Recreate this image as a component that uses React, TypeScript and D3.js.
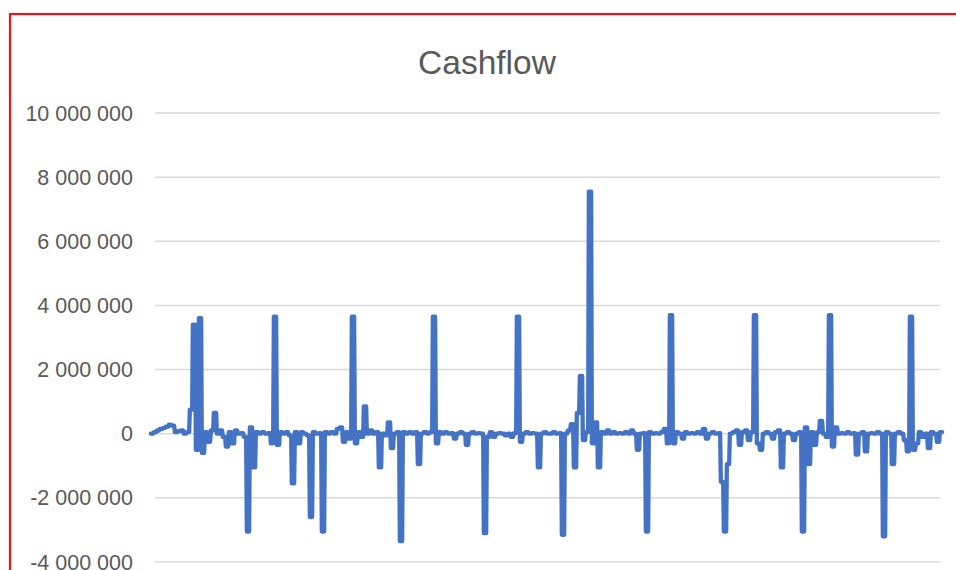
import React from "react";
import * as d3 from "d3";

// Cashflow values in millions, one per period
const cashflowM: number[] = [
  0.0, 0.05, 0.1, 0.15, 0.18, 0.22, 0.28, 0.25, 0.05, 0.08,
  0.1, 0.0, 0.05, 0.75, 3.4, -0.5, 3.6, -0.6, 0.05, -0.25,
  0.1, 0.65, 0.0, 0.1, -0.1, -0.4, 0.05, -0.3, 0.1, 0.0,
  0.02, -0.1, -3.05, 0.2, -1.05, 0.05, 0.0, 0.05, 0.0, 0.02,
  -0.3, 3.65, -0.35, 0.05, 0.0, 0.05, -0.05, -1.55, 0.05, -0.3,
  0.05, 0.0, -0.05, -2.6, 0.05, 0.0, 0.02, -3.05, 0.05, 0.0,
  0.05, 0.0, 0.15, 0.2, -0.25, 0.05, -0.15, 3.65, -0.3, 0.05,
  -0.1, 0.85, 0.0, 0.1, 0.0, 0.05, -1.05, 0.0, -0.05, 0.35,
  -0.45, 0.0, 0.05, -3.35, 0.05, 0.0, 0.05, 0.0, 0.05, -0.95,
  0.0, 0.05, 0.0, 0.05, 3.65, -0.3, 0.05, 0.0, 0.05, 0.0,
  0.02, -0.15, 0.0, 0.05, 0.0, -0.35, 0.0, 0.05, 0.0, 0.02,
  0.0, -3.1, -0.1, 0.05, -0.1, 0.0, 0.02, 0.0, -0.05, 0.0,
  -0.1, 0.02, 3.65, -0.25, 0.0, 0.05, 0.0, 0.02, 0.0, -1.05,
  0.0, 0.05, 0.0, 0.0, 0.05, 0.0, 0.02, -3.15, 0.0, 0.1,
  0.3, -1.05, 0.65, 1.8, -0.2, 0.05, 7.55, -0.3, 0.35, -1.05,
  0.05, 0.0, 0.1, 0.0, 0.05, 0.0, 0.02, 0.0, 0.05, 0.0,
  0.1, 0.0, -0.5, 0.0, 0.02, -3.05, 0.05, 0.0, 0.02, 0.0,
  0.05, 0.15, -0.3, 3.7, -0.3, 0.05, 0.0, -0.15, 0.05, 0.0,
  0.02, 0.0, 0.05, 0.0, 0.15, -0.15, 0.0, 0.05, 0.0, 0.02,
  -1.5, -3.05, -0.95, 0.0, 0.05, 0.1, -0.35, 0.05, 0.1, -0.2,
  0.05, 3.7, -0.3, -0.5, 0.0, 0.05, 0.0, -0.15, 0.05, 0.1,
  -1.05, 0.0, 0.05, 0.0, -0.2, 0.0, 0.05, -3.05, 0.2, -0.95,
  0.05, -0.35, 0.05, 0.4, 0.0, -0.1, 3.7, -0.4, 0.2, 0.0,
  0.02, 0.0, 0.05, 0.0, 0.02, -0.65, 0.0, 0.05, -0.55, 0.0,
  0.02, 0.0, 0.05, 0.0, -3.2, 0.05, 0.0, -0.95, 0.0, 0.05,
  0.0, -0.2, -0.55, 3.65, -0.5, -0.3, 0.05, -0.1, 0.0, -0.45,
  0.05, 0.0, -0.25, 0.05,
];

const yTicks: number[] = [-4, -2, 0, 2, 4, 6, 8, 10];
const yTickLabels: string[] = [
  "-4 000 000",
  "-2 000 000",
  "0",
  "2 000 000",
  "4 000 000",
  "6 000 000",
  "8 000 000",
  "10 000 000",
];
const chartTitle = "Cashflow";

const W = 956;
const H = 570;

export default function App() {
  const x = d3
    .scaleLinear()
    .domain([0, cashflowM.length - 1])
    .range([152, 941]);
  const y = d3.scaleLinear().domain([-4, 10]).range([562, 113]);

  // each period is held over a narrow span so that spikes render as near-vertical bars
  const half = 1.15;
  const pts: [number, number][] = cashflowM.flatMap((v, i) => [
    [x(i) - half, y(v)] as [number, number],
    [x(i) + half, y(v)] as [number, number],
  ]);

  const line = d3.line<[number, number]>();

  const font = "'Liberation Sans', Arial, sans-serif";

  return (
    <svg
      width={W}
      height={H}
      style={{ position: "absolute", left: 0, top: 0, background: "#fff" }}
    >
      <rect x={0} y={0} width={W} height={H} fill="#fff" />
      {/* red frame */}
      <rect
        x={10}
        y={14}
        width={W + 20}
        height={H + 20}
        fill="#fff"
        stroke="#e8141a"
        strokeWidth={2.2}
      />
      <text
        x={487}
        y={74}
        textAnchor="middle"
        fontFamily={font}
        fontSize={33.5}
        fill="#595959"
      >
        {chartTitle}
      </text>
      {yTicks.map((t, i) => (
        <g key={t}>
          <line
            x1={155}
            x2={940}
            y1={y(t)}
            y2={y(t)}
            stroke="#d9d9d9"
            strokeWidth={1.5}
          />
          <text
            x={133}
            y={y(t)}
            dy="0.35em"
            textAnchor="end"
            fontFamily={font}
            fontSize={21.5}
            fill="#595959"
          >
            {yTickLabels[i]}
          </text>
        </g>
      ))}
      <path
        d={line(pts) || ""}
        fill="none"
        stroke="#4472c4"
        strokeWidth={4.3}
        strokeLinejoin="round"
        strokeLinecap="round"
      />
    </svg>
  );
}
